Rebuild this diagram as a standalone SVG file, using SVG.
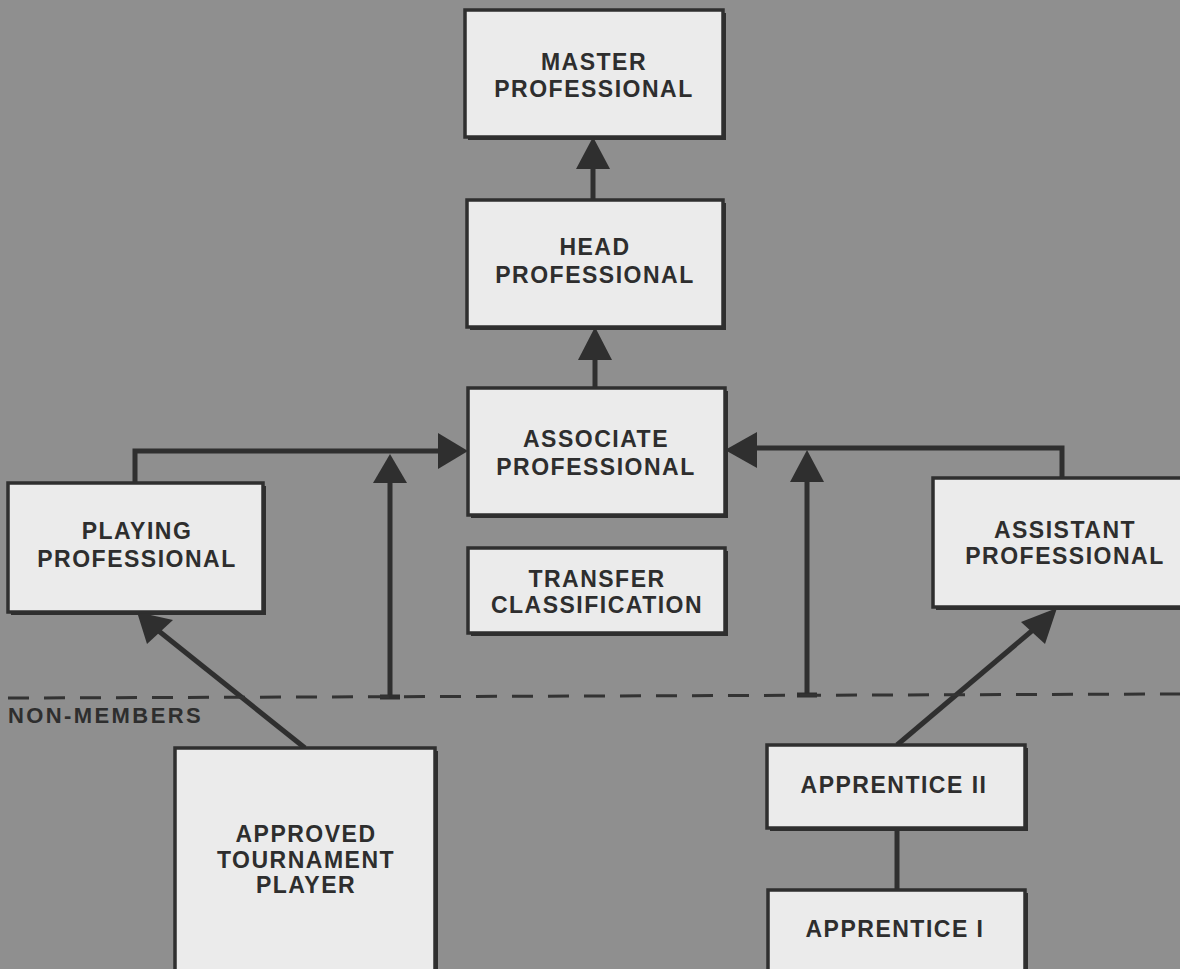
<svg xmlns="http://www.w3.org/2000/svg" width="1180" height="969" viewBox="0 0 1180 969">
<defs>
<style>
.bg{fill:#8f8f8f}
.box{fill:#ebebeb;stroke:#2f2f2f;stroke-width:3.5}
.sh{fill:#2f2f2f}
.t{font-family:"Liberation Sans",Arial,sans-serif;font-weight:bold;font-size:23px;letter-spacing:1.5px;fill:#2e2e2e;text-anchor:middle}
.lbl{font-family:"Liberation Sans",Arial,sans-serif;font-weight:bold;font-size:22px;letter-spacing:2.4px;fill:#2e2e2e}
.ln{stroke:#2f2f2f;stroke-width:5;fill:none}
.ah{fill:#2f2f2f}
.dash{stroke:#333;stroke-width:3;stroke-dasharray:21 15;fill:none}
</style>
</defs>
<rect class="bg" x="0" y="0" width="1180" height="969"/>

<g id="connectors">
  <line class="ln" x1="593" y1="200" x2="593" y2="160"/>
  <polygon class="ah" points="593,137 576,169 610,169"/>
  <line class="ln" x1="595" y1="388" x2="595" y2="350"/>
  <polygon class="ah" points="595,327 578,360 612,360"/>
  <polyline class="ln" points="135,483 135,451 445,451"/>
  <polygon class="ah" points="468,451 438,433 438,469"/>
  <line class="ln" x1="390" y1="697" x2="390" y2="475"/>
  <line class="ln" x1="380" y1="697" x2="400" y2="697"/>
  <polygon class="ah" points="390,454 373,483 407,483"/>
  <polyline class="ln" points="1062,478 1062,448 750,448"/>
  <polygon class="ah" points="725,450 757,432 757,468"/>
  <line class="ln" x1="807" y1="695" x2="807" y2="475"/>
  <line class="ln" x1="797" y1="695" x2="817" y2="695"/>
  <polygon class="ah" points="807,450 790,482 824,482"/>
  <line class="ln" x1="305" y1="748" x2="155" y2="628"/>
  <polygon class="ah" points="137,612 173,620 147,644"/>
  <line class="ln" x1="897" y1="745" x2="1040" y2="624"/>
  <polygon class="ah" points="1057,608 1021,622 1045,644"/>
  <line class="ln" x1="897" y1="828" x2="897" y2="890"/>
  <line class="dash" x1="8" y1="698" x2="1180" y2="694"/>
</g>

<g id="master">
  <rect class="sh" x="468" y="13" width="258" height="127"/>
  <rect class="box" x="465" y="10" width="258" height="127"/>
  <text class="t" x="594" y="70">MASTER</text>
  <text class="t" x="594" y="97">PROFESSIONAL</text>
</g>
<g id="head">
  <rect class="sh" x="470" y="203" width="256" height="127"/>
  <rect class="box" x="467" y="200" width="256" height="127"/>
  <text class="t" x="595" y="255">HEAD</text>
  <text class="t" x="595" y="283">PROFESSIONAL</text>
</g>
<g id="associate">
  <rect class="sh" x="471" y="391" width="257" height="127"/>
  <rect class="box" x="468" y="388" width="257" height="127"/>
  <text class="t" x="596" y="447">ASSOCIATE</text>
  <text class="t" x="596" y="475">PROFESSIONAL</text>
</g>
<g id="transfer">
  <rect class="sh" x="471" y="551" width="257" height="85"/>
  <rect class="box" x="468" y="548" width="257" height="85"/>
  <text class="t" x="597" y="587">TRANSFER</text>
  <text class="t" x="597" y="613">CLASSIFICATION</text>
</g>
<g id="playing">
  <rect class="sh" x="11" y="486" width="255" height="129"/>
  <rect class="box" x="8" y="483" width="255" height="129"/>
  <text class="t" x="137" y="539">PLAYING</text>
  <text class="t" x="137" y="567">PROFESSIONAL</text>
</g>
<g id="assistant">
  <rect class="sh" x="936" y="481" width="250" height="129"/>
  <rect class="box" x="933" y="478" width="250" height="129"/>
  <text class="t" x="1065" y="538">ASSISTANT</text>
  <text class="t" x="1065" y="564">PROFESSIONAL</text>
</g>
<g id="non-members-label">
  <text class="lbl" x="8" y="723">NON-MEMBERS</text>
</g>
<g id="atp">
  <rect class="sh" x="178" y="751" width="260" height="230"/>
  <rect class="box" x="175" y="748" width="260" height="230"/>
  <text class="t" x="306" y="842">APPROVED</text>
  <text class="t" x="306" y="868">TOURNAMENT</text>
  <text class="t" x="306" y="893">PLAYER</text>
</g>
<g id="apprentice2">
  <rect class="sh" x="770" y="748" width="258" height="83"/>
  <rect class="box" x="767" y="745" width="258" height="83"/>
  <text class="t" x="894" y="793">APPRENTICE II</text>
</g>
<g id="apprentice1">
  <rect class="sh" x="771" y="893" width="257" height="90"/>
  <rect class="box" x="768" y="890" width="257" height="90"/>
  <text class="t" x="895" y="937">APPRENTICE I</text>
</g>
</svg>
